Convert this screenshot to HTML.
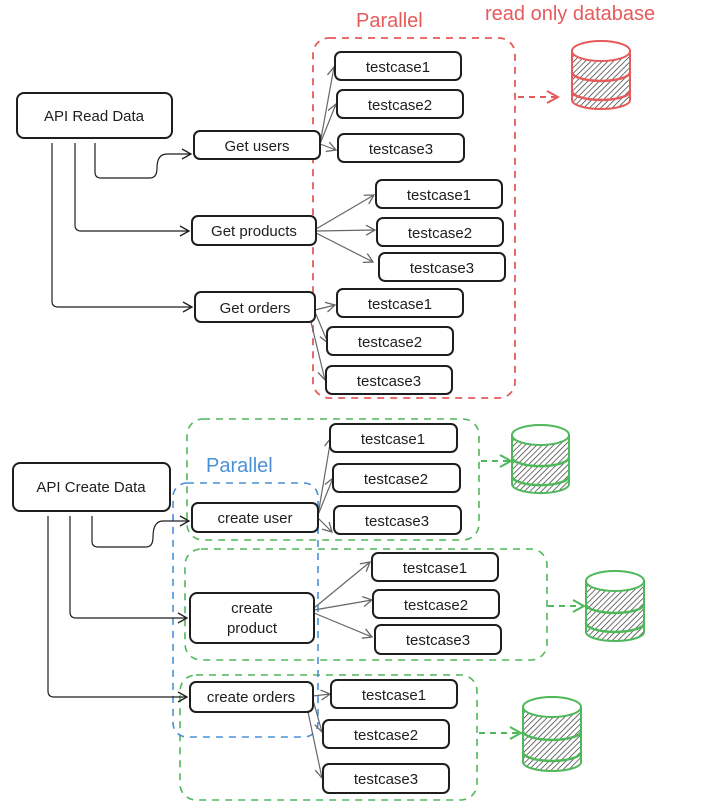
<!DOCTYPE html>
<html><head><meta charset="utf-8"><style>
html,body{margin:0;padding:0;background:#fff;}
svg{display:block;}
text{font-family:"Liberation Sans",sans-serif;fill:#1e1e1e;}
</style></head><body>
<svg width="703" height="809" viewBox="0 0 703 809" xmlns="http://www.w3.org/2000/svg">
<defs>
<pattern id="h" width="4" height="4" patternUnits="userSpaceOnUse" patternTransform="rotate(45)">
<rect width="4" height="4" fill="#fff"/><line x1="0" y1="0" x2="0" y2="4" stroke="#333" stroke-width="1.4"/>
</pattern>
<marker id="a" markerWidth="12" markerHeight="12" refX="10" refY="6" orient="auto" markerUnits="userSpaceOnUse">
<path d="M1,1 L10,6 L1,11" fill="none" stroke="#1e1e1e" stroke-width="1.3"/></marker>
<marker id="ag" markerWidth="12" markerHeight="12" refX="10" refY="6" orient="auto" markerUnits="userSpaceOnUse">
<path d="M1,1 L10,6 L1,11" fill="none" stroke="#666" stroke-width="1.3"/></marker>
<marker id="ar" markerWidth="14" markerHeight="14" refX="12" refY="7" orient="auto" markerUnits="userSpaceOnUse">
<path d="M1,1 L12,7 L1,13" fill="none" stroke="#e55b5b" stroke-width="2"/></marker>
<marker id="agr" markerWidth="14" markerHeight="14" refX="12" refY="7" orient="auto" markerUnits="userSpaceOnUse">
<path d="M1,1 L12,7 L1,13" fill="none" stroke="#4fb85a" stroke-width="2"/></marker>
</defs>

<text x="356" y="27" font-size="20" style="fill:#e55b5b">Parallel</text>
<text x="485" y="20" font-size="20" style="fill:#e55b5b">read only database</text>
<text x="206" y="472" font-size="20" style="fill:#4a90d9">Parallel</text>

<rect x="313" y="38" width="202" height="360" rx="16" fill="none" stroke="#e55b5b" stroke-width="1.8" stroke-dasharray="7 6"/>
<rect x="187" y="419" width="292" height="121" rx="16" fill="none" stroke="#4fb85a" stroke-width="1.6" stroke-dasharray="7 6"/>
<rect x="185" y="549" width="362" height="111" rx="16" fill="none" stroke="#4fb85a" stroke-width="1.6" stroke-dasharray="7 6"/>
<rect x="180" y="675" width="297" height="125" rx="16" fill="none" stroke="#4fb85a" stroke-width="1.6" stroke-dasharray="7 6"/>
<rect x="173" y="483" width="145" height="254" rx="14" fill="none" stroke="#4a90d9" stroke-width="1.6" stroke-dasharray="7 6"/>

<line x1="518" y1="97" x2="558" y2="97" stroke="#e55b5b" stroke-width="2" stroke-dasharray="6 5" marker-end="url(#ar)"/>
<line x1="481" y1="461" x2="511" y2="461" stroke="#4fb85a" stroke-width="2" stroke-dasharray="6 5" marker-end="url(#agr)"/>
<line x1="548" y1="606" x2="584" y2="606" stroke="#4fb85a" stroke-width="2" stroke-dasharray="6 5" marker-end="url(#agr)"/>
<line x1="479" y1="733" x2="521" y2="733" stroke="#4fb85a" stroke-width="2" stroke-dasharray="6 5" marker-end="url(#agr)"/>

<g transform="translate(572,40)" stroke="#e55b5b">
<path d="M0,11 L0,60 A29,9 0 0 0 58,60 L58,11 Z" fill="url(#h)" stroke-width="2"/>
<path d="M0,32 A29,9 0 0 0 58,32 M0,51 A29,9 0 0 0 58,51" fill="none" stroke-width="2.5"/>
<ellipse cx="29" cy="11" rx="29" ry="10" fill="#fff" stroke-width="2"/></g>
<g transform="translate(512,424)" stroke="#4fb85a">
<path d="M0,11 L0,60 A28,9 0 0 0 57,60 L57,11 Z" fill="url(#h)" stroke-width="2"/>
<path d="M0,33 A28,9 0 0 0 57,33 M0,52 A28,9 0 0 0 57,52" fill="none" stroke-width="2.5"/>
<ellipse cx="28.5" cy="11" rx="28.5" ry="10" fill="#fff" stroke-width="2"/></g>
<g transform="translate(586,570)" stroke="#4fb85a">
<path d="M0,11 L0,62 A29,9 0 0 0 58,62 L58,11 Z" fill="url(#h)" stroke-width="2"/>
<path d="M0,34 A29,9 0 0 0 58,34 M0,53 A29,9 0 0 0 58,53" fill="none" stroke-width="2.5"/>
<ellipse cx="29" cy="11" rx="29" ry="10" fill="#fff" stroke-width="2"/></g>
<g transform="translate(523,696)" stroke="#4fb85a">
<path d="M0,11 L0,66 A29,9 0 0 0 58,66 L58,11 Z" fill="url(#h)" stroke-width="2"/>
<path d="M0,35 A29,9 0 0 0 58,35 M0,56 A29,9 0 0 0 58,56" fill="none" stroke-width="2.5"/>
<ellipse cx="29" cy="11" rx="29" ry="10" fill="#fff" stroke-width="2"/></g>

<g fill="none" stroke="#1e1e1e" stroke-width="1.2">
<path d="M95,143 L95,172 Q95,178 101,178 L150,178 Q157,178 157,168 Q157,154 167,154 L191,154" marker-end="url(#a)"/>
<path d="M75,143 L75,225 Q75,231 81,231 L189,231" marker-end="url(#a)"/>
<path d="M52,143 L52,301 Q52,307 58,307 L192,307" marker-end="url(#a)"/>
<path d="M92,516 L92,541 Q92,547 98,547 L146,547 Q153,547 153,537 Q153,521 163,521 L189,521" marker-end="url(#a)"/>
<path d="M70,516 L70,612 Q70,618 76,618 L187,618" marker-end="url(#a)"/>
<path d="M48,516 L48,691 Q48,697 54,697 L187,697" marker-end="url(#a)"/>
</g>

<g fill="none" stroke="#666" stroke-width="1.2">
<path d="M320,144 L334,67" marker-end="url(#ag)"/>
<path d="M320,144 L336,104" marker-end="url(#ag)"/>
<path d="M320,144 L336,150" marker-end="url(#ag)"/>
<path d="M316,229 L374,195" marker-end="url(#ag)"/>
<path d="M316,231 L375,230" marker-end="url(#ag)"/>
<path d="M316,233 L373,262" marker-end="url(#ag)"/>
<path d="M315,310 L335,305" marker-end="url(#ag)"/>
<path d="M315,312 L328,343" marker-end="url(#ag)"/>
<path d="M310,318 L325,380" marker-end="url(#ag)"/>
<path d="M318,515 L331,438" marker-end="url(#ag)"/>
<path d="M318,515 L333,478" marker-end="url(#ag)"/>
<path d="M318,518 L332,532" marker-end="url(#ag)"/>
<path d="M314,608 L370,562" marker-end="url(#ag)"/>
<path d="M314,610 L372,600" marker-end="url(#ag)"/>
<path d="M314,613 L372,637" marker-end="url(#ag)"/>
<path d="M313,696 L330,694" marker-end="url(#ag)"/>
<path d="M313,700 L322,732" marker-end="url(#ag)"/>
<path d="M308,712 L322,778" marker-end="url(#ag)"/>
</g>

<g fill="#fff" stroke="#1e1e1e" stroke-width="2">
<rect x="17" y="93" width="155" height="45" rx="7"/>
<rect x="194" y="131" width="126" height="28" rx="6"/>
<rect x="192" y="216" width="124" height="29" rx="6"/>
<rect x="195" y="292" width="120" height="30" rx="6"/>
<rect x="335" y="52" width="126" height="28" rx="6"/>
<rect x="337" y="90" width="126" height="28" rx="6"/>
<rect x="338" y="134" width="126" height="28" rx="6"/>
<rect x="376" y="180" width="126" height="28" rx="6"/>
<rect x="377" y="218" width="126" height="28" rx="6"/>
<rect x="379" y="253" width="126" height="28" rx="6"/>
<rect x="337" y="289" width="126" height="28" rx="6"/>
<rect x="327" y="327" width="126" height="28" rx="6"/>
<rect x="326" y="366" width="126" height="28" rx="6"/>

<rect x="13" y="463" width="157" height="48" rx="7"/>
<rect x="192" y="503" width="126" height="29" rx="6"/>
<rect x="190" y="593" width="124" height="50" rx="7"/>
<rect x="190" y="682" width="123" height="30" rx="6"/>
<rect x="330" y="424" width="127" height="28" rx="6"/>
<rect x="333" y="464" width="127" height="28" rx="6"/>
<rect x="334" y="506" width="127" height="28" rx="6"/>
<rect x="372" y="553" width="126" height="28" rx="6"/>
<rect x="373" y="590" width="126" height="28" rx="6"/>
<rect x="375" y="625" width="126" height="29" rx="6"/>
<rect x="331" y="680" width="126" height="28" rx="6"/>
<rect x="323" y="720" width="126" height="28" rx="6"/>
<rect x="323" y="764" width="126" height="29" rx="6"/>
</g>

<g font-size="15" text-anchor="middle">
<text x="94" y="121">API Read Data</text>
<text x="257" y="151">Get users</text>
<text x="254" y="236">Get products</text>
<text x="255" y="313">Get orders</text>
<text x="398" y="72">testcase1</text>
<text x="400" y="110">testcase2</text>
<text x="401" y="154">testcase3</text>
<text x="439" y="200">testcase1</text>
<text x="440" y="238">testcase2</text>
<text x="442" y="273">testcase3</text>
<text x="400" y="309">testcase1</text>
<text x="390" y="347">testcase2</text>
<text x="389" y="386">testcase3</text>

<text x="91" y="492">API Create Data</text>
<text x="255" y="523">create user</text>
<text x="252" y="613">create</text>
<text x="252" y="633">product</text>
<text x="251" y="702">create orders</text>
<text x="393" y="444">testcase1</text>
<text x="396" y="484">testcase2</text>
<text x="397" y="526">testcase3</text>
<text x="435" y="573">testcase1</text>
<text x="436" y="610">testcase2</text>
<text x="438" y="645">testcase3</text>
<text x="394" y="700">testcase1</text>
<text x="386" y="740">testcase2</text>
<text x="386" y="784">testcase3</text>
</g>
</svg>
</body></html>
